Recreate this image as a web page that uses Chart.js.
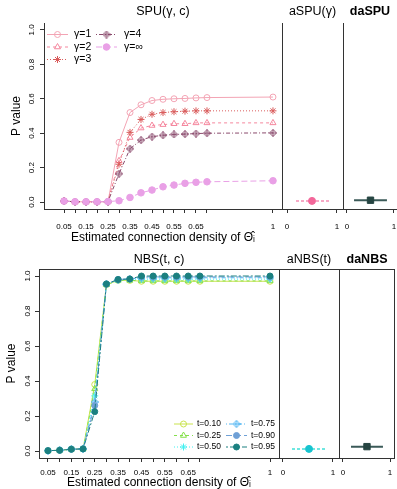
<!DOCTYPE html>
<html>
<head>
<meta charset="utf-8">
<script src="https://cdn.jsdelivr.net/npm/chart.js@4.4.1/dist/chart.umd.min.js"></script>
<style>
  html, body { margin: 0; padding: 0; background: #fff; overflow: hidden; width: 397px; height: 489px; }
  canvas { position: absolute; }
</style>
</head>
<body>
<canvas id="spuMain"></canvas>
<canvas id="aspu"></canvas>
<canvas id="daspu"></canvas>
<canvas id="nbsMain"></canvas>
<canvas id="anbs"></canvas>
<canvas id="danbs"></canvas>
<script>
// values
const densities = [0.05, 0.1, 0.15, 0.2, 0.25, 0.3, 0.35, 0.4, 0.45, 0.5, 0.55, 0.6, 0.65, 0.7, 1];
const densityTicks = [0.05, 0.1, 0.15, 0.2, 0.25, 0.3, 0.35, 0.4, 0.45, 0.5, 0.55, 0.6, 0.65, 0.7, 1];
const densityTickLabels = ['0.05', '', '0.15', '', '0.25', '', '0.35', '', '0.45', '', '0.55', '', '0.65', '', '1'];
const pTicks = [0, 0.2, 0.4, 0.6, 0.8, 1];
const pTickLabels = ['0.0', '0.2', '0.4', '0.6', '0.8', '1.0'];
const unitTicks = [0, 1];
const unitTickLabels = ['0', '1'];

const spuLabels = ['γ=1', 'γ=2', 'γ=3', 'γ=4', 'γ=∞'];
const spuG1 = [0.006, 0.002, 0.002, 0.002, 0.003, 0.347, 0.52, 0.565, 0.59, 0.597, 0.6, 0.602, 0.605, 0.607, 0.61];
const spuG2 = [0.006, 0.002, 0.002, 0.002, 0.003, 0.24, 0.375, 0.43, 0.445, 0.45, 0.455, 0.455, 0.46, 0.46, 0.46];
const spuG3 = [0.006, 0.002, 0.002, 0.002, 0.003, 0.22, 0.405, 0.48, 0.51, 0.52, 0.525, 0.528, 0.53, 0.53, 0.53];
const spuG4 = [0.006, 0.002, 0.002, 0.002, 0.003, 0.165, 0.31, 0.36, 0.38, 0.388, 0.393, 0.395, 0.398, 0.4, 0.402];
const spuGInf = [0.006, 0.002, 0.002, 0.002, 0.003, 0.008, 0.027, 0.054, 0.07, 0.089, 0.099, 0.109, 0.115, 0.118, 0.124];

const nbsLabels = ['t=0.10', 't=0.25', 't=0.50', 't=0.75', 't=0.90', 't=0.95'];
const nbsT10 = [0.002, 0.004, 0.01, 0.012, 0.38, 0.95, 0.975, 0.975, 0.97, 0.97, 0.97, 0.97, 0.97, 0.97, 0.97];
const nbsT25 = [0.002, 0.004, 0.01, 0.012, 0.355, 0.95, 0.975, 0.975, 0.972, 0.972, 0.972, 0.972, 0.972, 0.972, 0.972];
const nbsT50 = [0.002, 0.004, 0.01, 0.012, 0.315, 0.952, 0.978, 0.98, 0.982, 0.982, 0.982, 0.982, 0.982, 0.982, 0.982];
const nbsT75 = [0.002, 0.004, 0.01, 0.012, 0.28, 0.953, 0.98, 0.983, 0.99, 0.99, 0.99, 0.99, 0.99, 0.99, 0.99];
const nbsT90 = [0.002, 0.004, 0.01, 0.012, 0.26, 0.953, 0.98, 0.983, 0.995, 0.995, 0.995, 0.995, 0.995, 0.995, 0.995];
const nbsT95 = [0.002, 0.004, 0.01, 0.012, 0.225, 0.955, 0.98, 0.983, 1.0, 1.0, 1.0, 1.0, 1.0, 1.0, 1.0];

// adaptive tests: [position, p value] and interval ends
const aspuEst = [0.5, 0.007];
const aspuBar = [0.18, 0.84];
const daspuEst = [0.5, 0.011];
const daspuBar = [0.15, 0.85];
const anbsEst = [0.52, 0.012];
const anbsBar = [0.18, 0.86];
const danbsEst = [0.51, 0.025];
const danbsBar = [0.17, 0.85];

// ---- small drawing helpers ----
function diamondPlus(color) {
  const c = document.createElement('canvas');
  c.width = c.height = 8;
  const g = c.getContext('2d');
  g.strokeStyle = color;
  g.lineWidth = 1;
  g.beginPath();
  g.moveTo(4, 0.5); g.lineTo(7.5, 4); g.lineTo(4, 7.5); g.lineTo(0.5, 4); g.closePath();
  g.moveTo(4, 0.5); g.lineTo(4, 7.5);
  g.moveTo(0.5, 4); g.lineTo(7.5, 4);
  g.stroke();
  return c;
}

function series(label, values, color, dash, style, radius, filled, order) {
  return {
    label: label,
    data: values.map((v, i) => ({ x: densities[i], y: v })),
    borderColor: color,
    borderWidth: 1,
    borderDash: dash,
    pointStyle: style,
    pointRadius: radius,
    pointBorderWidth: 1,
    pointBorderColor: color,
    pointBackgroundColor: filled ? color : 'rgba(0,0,0,0)',
    tension: 0,
    order: order
  };
}

function estimate(est, bar, lineColor, dash, lineWidth, pointColor, style, radius) {
  return [
    {
      data: [{ x: bar[0], y: est[1] }, { x: bar[1], y: est[1] }],
      borderColor: lineColor, borderWidth: lineWidth, borderDash: dash, pointRadius: 0, order: 2
    },
    {
      data: [{ x: est[0], y: est[1] }],
      showLine: false, pointStyle: style, pointRadius: radius,
      pointBackgroundColor: pointColor, pointBorderColor: pointColor, order: 1
    }
  ];
}

// frame lines (R style box pieces)
Chart.register({
  id: 'frame',
  afterDatasetsDraw(chart, args, opts) {
    if (!opts || !opts.sides) return;
    const ctx = chart.ctx, a = chart.chartArea;
    ctx.save();
    ctx.strokeStyle = '#333';
    ctx.lineWidth = 1;
    ctx.beginPath();
    if (opts.sides.includes('left')) { ctx.moveTo(a.left + 0.5, a.top); ctx.lineTo(a.left + 0.5, a.bottom + 1); }
    if (opts.sides.includes('bottom')) { ctx.moveTo(a.left, a.bottom + 0.5); ctx.lineTo(a.right, a.bottom + 0.5); }
    if (opts.sides.includes('top')) { ctx.moveTo(a.left, a.top + 0.5); ctx.lineTo(a.right, a.top + 0.5); }
    if (opts.sides.includes('right')) { ctx.moveTo(a.right - 0.5, a.top); ctx.lineTo(a.right - 0.5, a.bottom + 1); }
    ctx.stroke();
    ctx.restore();
  }
});

// R draws y tick labels turned on their side
Chart.register({
  id: 'rotTicks',
  afterDraw(chart, args, opts) {
    if (!opts || !opts.labels) return;
    const ctx = chart.ctx, s = chart.scales.y;
    ctx.save();
    ctx.font = '8px "Liberation Sans", Arial, sans-serif';
    ctx.fillStyle = '#000';
    ctx.textAlign = 'center';
    ctx.textBaseline = 'middle';
    s.ticks.forEach((t, i) => {
      ctx.save();
      ctx.translate(chart.chartArea.left - opts.offset, s.getPixelForValue(t.value));
      ctx.rotate(-Math.PI / 2);
      ctx.fillText(opts.labels[i], 0, 0);
      ctx.restore();
    });
    ctx.restore();
  }
});

// two-column legend inside the plot
Chart.register({
  id: 'boxLegend',
  afterDatasetsDraw(chart, args, opts) {
    if (!opts || !opts.items) return;
    const ctx = chart.ctx;
    ctx.save();
    ctx.font = opts.font;
    ctx.textAlign = 'left';
    ctx.textBaseline = 'middle';
    opts.items.forEach(it => {
      const ds = chart.data.datasets[it.ds];
      ctx.strokeStyle = ds.borderColor;
      ctx.lineWidth = 1;
      ctx.setLineDash(ds.borderDash || []);
      ctx.beginPath();
      ctx.moveTo(it.x0, it.y); ctx.lineTo(it.x1, it.y);
      ctx.stroke();
      ctx.setLineDash([]);
      ctx.fillStyle = ds.pointBackgroundColor;
      ctx.strokeStyle = ds.pointBorderColor;
      Chart.helpers.drawPoint(ctx, { pointStyle: ds.pointStyle, radius: ds.pointRadius, rotation: 0, borderWidth: 1 }, (it.x0 + it.x1) / 2, it.y);
      ctx.fillStyle = '#000';
      ctx.fillText(ds.label, it.tx, it.y);
    });
    ctx.restore();
  }
});

Chart.defaults.font.family = '"Liberation Sans", Arial, sans-serif';

function panel(id, box, cfg) {
  const cv = document.getElementById(id);
  cv.width = box.w;
  cv.height = box.h;
  cv.style.left = box.left + 'px';
  cv.style.top = box.top + 'px';
  return new Chart(cv, {
    type: 'line',
    data: { datasets: cfg.datasets },
    options: {
      responsive: false,
      animation: false,
      devicePixelRatio: 1,
      events: [],
      layout: { padding: 0, autoPadding: false },
      plugins: {
        legend: { display: false },
        tooltip: { enabled: false },
        title: {
          display: true, text: cfg.title, fullSize: false, color: '#000',
          font: { size: 12.5, weight: cfg.bold ? 'bold' : 'normal' },
          padding: box.titlePad
        },
        frame: { sides: cfg.sides },
        rotTicks: cfg.rotTicks || {},
        boxLegend: cfg.legend || {}
      },
      scales: {
        x: {
          type: 'linear', min: cfg.xMin, max: cfg.xMax,
          afterBuildTicks: s => { s.ticks = cfg.xTicks.map(v => ({ value: v })); },
          afterFit: s => { s.height = box.xH; s.paddingLeft = 0; s.paddingRight = 0; },
          ticks: {
            autoSkip: false, maxRotation: 0, minRotation: 0, padding: box.tickPad,
            color: '#000', font: { size: 8 },
            callback: (v, i) => cfg.xTickLabels[i]
          },
          grid: { display: true, drawOnChartArea: false, drawTicks: true, tickLength: 4, color: '#333' },
          border: { display: false },
          title: cfg.xTitle
            ? { display: true, text: cfg.xTitle, color: '#000', font: { size: 12 }, padding: { top: 0, bottom: box.xTitlePad } }
            : { display: false }
        },
        y: {
          type: 'linear', min: -0.04, max: 1.04,
          afterBuildTicks: s => { s.ticks = pTicks.map(v => ({ value: v })); },
          afterFit: s => { s.width = cfg.yW; s.paddingTop = 0; s.paddingBottom = 0; },
          ticks: { display: false },
          grid: { display: !!cfg.yTicks, drawOnChartArea: false, drawTicks: true, tickLength: 4, color: '#333' },
          border: { display: false },
          title: cfg.yTitle
            ? { display: true, text: 'P value', color: '#000', font: { size: 12 }, padding: { top: cfg.yTitlePad, bottom: 0 } }
            : { display: false }
        }
      }
    }
  });
}

const xTitle = 'Estimated connection density of Θ\u0302ᵢ';
const topRow = { top: 0, h: 245, xH: 36, tickPad: 9, xTitlePad: 0, titlePad: { top: 4.5, bottom: 3.5 } };
const botRow = { top: 245, h: 252, xH: 39, tickPad: 6.2, xTitlePad: 6.8, titlePad: { top: 7.5, bottom: 1.5 } };

// ---- SPU row ----
panel('spuMain', Object.assign({ left: 0, w: 282 }, topRow), {
  title: 'SPU(γ, c)', xMin: -0.041, xMax: 1.041, xTicks: densityTicks, xTickLabels: densityTickLabels,
  xTitle: xTitle, yW: 44, yTicks: true, yTitle: true, yTitlePad: 9.8,
  sides: ['left', 'bottom'],
  rotTicks: { labels: pTickLabels, offset: 12.5 },
  legend: {
    font: '10.5px "Liberation Sans", Arial, sans-serif',
    items: [
      { ds: 0, x0: 47, x1: 68, y: 34.5, tx: 74 },
      { ds: 1, x0: 47, x1: 68, y: 47, tx: 74 },
      { ds: 2, x0: 47, x1: 68, y: 59.5, tx: 74 },
      { ds: 3, x0: 96, x1: 117, y: 34.5, tx: 124 },
      { ds: 4, x0: 96, x1: 117, y: 47, tx: 124 }
    ]
  },
  datasets: [
    series(spuLabels[0], spuG1, '#f3a4b4', [], 'circle', 3, false, 5),
    series(spuLabels[1], spuG2, '#f5879e', [3, 3], 'triangle', 3.5, false, 4),
    series(spuLabels[2], spuG3, '#d95b5b', [1, 2], 'star', 3.5, false, 3),
    series(spuLabels[3], spuG4, '#8a4a6c', [1, 2, 4, 2], diamondPlus('#8a4a6c'), 4, false, 2),
    series(spuLabels[4], spuGInf, '#e9a0e6', [6, 3], 'circle', 3.3, true, 1)
  ]
});

panel('aspu', Object.assign({ left: 278, w: 65 }, topRow), {
  title: 'aSPU(γ)', xMin: -0.1, xMax: 1.12, xTicks: unitTicks, xTickLabels: unitTickLabels,
  yW: 4, sides: ['left', 'bottom'],
  datasets: estimate(aspuEst, aspuBar, '#f58fb4', [3, 2], 1.5, '#f3679a', 'circle', 3.5)
});

panel('daspu', Object.assign({ left: 339, w: 58 }, topRow), {
  title: 'daSPU', bold: true, xMin: -0.085, xMax: 1.064, xTicks: unitTicks, xTickLabels: unitTickLabels,
  yW: 4, sides: ['left', 'bottom'],
  datasets: estimate(daspuEst, daspuBar, '#3b5a58', [], 2, '#264542', 'rect', 4.5)
});

// ---- NBS row ----
panel('nbsMain', Object.assign({ left: 0, w: 279 }, botRow), {
  title: 'NBS(t, c)', xMin: 0.0115, xMax: 1.0385, xTicks: densityTicks, xTickLabels: densityTickLabels,
  xTitle: xTitle, yW: 39, yTicks: true, yTitle: true, yTitlePad: 4.8,
  sides: ['left', 'bottom', 'top'],
  rotTicks: { labels: pTickLabels, offset: 11 },
  legend: {
    font: '8.5px "Liberation Sans", Arial, sans-serif',
    items: [
      { ds: 0, x0: 174, x1: 193, y: 179, tx: 197 },
      { ds: 1, x0: 174, x1: 193, y: 190.5, tx: 197 },
      { ds: 2, x0: 174, x1: 193, y: 202, tx: 197 },
      { ds: 3, x0: 226, x1: 247, y: 179, tx: 251 },
      { ds: 4, x0: 226, x1: 247, y: 190.5, tx: 251 },
      { ds: 5, x0: 226, x1: 247, y: 202, tx: 251 }
    ]
  },
  datasets: [
    series(nbsLabels[0], nbsT10, '#c9e34d', [], 'circle', 3, false, 6),
    series(nbsLabels[1], nbsT25, '#84e04a', [3, 3], 'triangle', 3.5, false, 5),
    series(nbsLabels[2], nbsT50, '#3ff0f0', [1, 2], 'star', 3.5, false, 4),
    series(nbsLabels[3], nbsT75, '#52b6f2', [1, 2, 4, 2], diamondPlus('#52b6f2'), 4, false, 3),
    series(nbsLabels[4], nbsT90, '#6fa0d6', [6, 3], 'circle', 3, true, 2),
    series(nbsLabels[5], nbsT95, '#1b8080', [2, 2, 6, 2], 'circle', 3, true, 1)
  ]
});

panel('anbs', Object.assign({ left: 275, w: 64 }, botRow), {
  title: 'aNBS(t)', xMin: -0.08, xMax: 1.12, xTicks: unitTicks, xTickLabels: unitTickLabels,
  yW: 4, sides: ['left', 'bottom', 'top'],
  datasets: estimate(anbsEst, anbsBar, '#3fe0d8', [3, 2], 1.5, '#17c3cf', 'circle', 3.5)
});

panel('danbs', Object.assign({ left: 335, w: 60 }, botRow), {
  title: 'daNBS', bold: true, xMin: -0.085, xMax: 1.106, xTicks: unitTicks, xTickLabels: unitTickLabels,
  yW: 4, sides: ['left', 'bottom', 'top', 'right'],
  datasets: estimate(danbsEst, danbsBar, '#3b5a58', [], 2, '#264542', 'rect', 4.5)
});
</script>
</body>
</html>
